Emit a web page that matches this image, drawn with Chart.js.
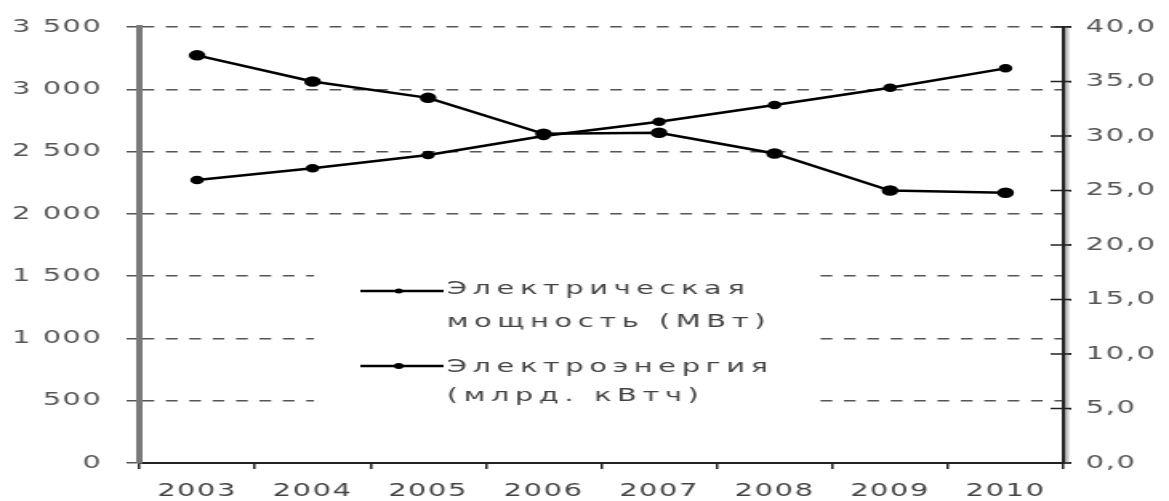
<!DOCTYPE html>
<html>
<head>
<meta charset="utf-8">
<script src="https://cdn.jsdelivr.net/npm/chart.js@4.4.1/dist/chart.umd.min.js"></script>
<style>
  html, body { margin: 0; padding: 0; background: #fff; overflow: hidden; }
  /* the source picture is stretched sideways, so the canvas is too */
  #wrap { width: 730px; height: 501px; transform: scaleX(1.6014); transform-origin: 0 0; }
</style>
</head>
<body>
<div id="wrap"><canvas id="chart"></canvas></div>
<script>
const years = ['2003', '2004', '2005', '2006', '2007', '2008', '2009', '2010'];
const powerMW = [2272, 2366, 2472, 2625, 2740, 2874, 3013, 3168];
const energyBnKWh = [37.4, 35.0, 33.5, 30.2, 30.3, 28.4, 25.0, 24.8];

const powerLabel = ['Электрическая', 'мощность (МВт)'];
const energyLabel = ['Электроэнергия', '(млрд. кВтч)'];

const leftTicks = ['0', '500', '1 000', '1 500', '2 000', '2 500', '3 000', '3 500'];
const rightTicks = ['0,0', '5,0', '10,0', '15,0', '20,0', '25,0', '30,0', '35,0', '40,0'];

const tickFont = { family: 'DejaVu Sans', size: 18 };

// letter spacing gets reset whenever the canvas is resized
const spacing = {
  id: 'spacing',
  beforeUpdate(chart) { chart.ctx.letterSpacing = '1px'; },
  beforeDraw(chart) { chart.ctx.letterSpacing = '1px'; }
};

// short inner ticks on the right axis, the line crosses them
const innerTicks = {
  id: 'innerTicks',
  afterDraw(chart) {
    const s = chart.scales.y1;
    const ctx = chart.ctx;
    ctx.save();
    // pale shadow next to the right axis line
    ctx.strokeStyle = '#c8c8c8';
    ctx.lineWidth = 2;
    ctx.beginPath();
    ctx.moveTo(s.left + 2.5, s.top);
    ctx.lineTo(s.left + 2.5, s.bottom);
    ctx.stroke();
    ctx.strokeStyle = '#222';
    ctx.lineWidth = 1.5;
    s.ticks.forEach(t => {
      const y = s.getPixelForValue(t.value);
      ctx.beginPath();
      ctx.moveTo(s.left - 8, y);
      ctx.lineTo(s.left + 5, y);
      ctx.stroke();
    });
    ctx.restore();
  }
};

// legend sits in the middle of the plot on a white box
const insideLegend = {
  id: 'insideLegend',
  afterDraw(chart) {
    const ctx = chart.ctx;
    const items = [
      { lines: powerLabel, y: 291, text: [289, 322], r: 2.5 },
      { lines: energyLabel, y: 366, text: [367, 396], r: 3 }
    ];
    ctx.save();
    ctx.fillStyle = '#fff';
    ctx.fillRect(196, 240, 312, 190);
    items.forEach(it => {
      ctx.strokeStyle = '#000';
      ctx.lineWidth = 2.5;
      ctx.beginPath();
      ctx.moveTo(225, it.y);
      ctx.lineTo(277, it.y);
      ctx.stroke();
      ctx.fillStyle = '#000';
      ctx.beginPath();
      ctx.arc(249, it.y, it.r, 0, Math.PI * 2);
      ctx.fill();
      ctx.fillStyle = '#444';
      ctx.font = '18px "DejaVu Sans"';
      ctx.letterSpacing = '3.5px';
      ctx.textBaseline = 'middle';
      ctx.textAlign = 'left';
      it.lines.forEach((line, i) => ctx.fillText(line, 279, it.text[i]));
    });
    ctx.restore();
  }
};

new Chart(document.getElementById('chart'), {
  type: 'line',
  data: {
    labels: years,
    datasets: [{
      label: powerLabel.join(' '),
      data: powerMW,
      yAxisID: 'y',
      borderColor: '#000',
      backgroundColor: '#000',
      borderWidth: 2.5,
      pointRadius: 3,
      pointHoverRadius: 3
    }, {
      label: energyLabel.join(' '),
      data: energyBnKWh,
      yAxisID: 'y1',
      borderColor: '#000',
      backgroundColor: '#000',
      borderWidth: 2.5,
      pointRadius: 4,
      pointHoverRadius: 4
    }]
  },
  options: {
    responsive: true,
    maintainAspectRatio: false,
    animation: false,
    layout: { padding: { top: 27, left: 0, right: 0, bottom: 0 } },
    plugins: {
      legend: { display: false },
      tooltip: { enabled: false }
    },
    scales: {
      x: {
        offset: true,
        grid: { offset: true, drawOnChartArea: false, tickLength: 6, color: '#222', lineWidth: 1.5 },
        border: { color: '#222', width: 2 },
        ticks: { padding: 12, color: '#444', font: tickFont, maxRotation: 0 },
        afterFit: s => { s.height = 38; }
      },
      y: {
        position: 'left',
        min: 0,
        max: 3500,
        grid: {
          color: c => (c.tick && c.tick.value === 0) ? 'rgba(0,0,0,0)' : '#555',
          tickColor: '#555',
          lineWidth: 1.5,
          tickLength: 8,
          tickBorderDash: []
        },
        border: { color: '#7a7a7a', width: 4, dash: [7.3, 7.3] },
        ticks: {
          stepSize: 500,
          padding: 15,
          color: '#555',
          font: tickFont,
          callback: (v, i) => leftTicks[i]
        },
        afterFit: s => { s.width = 87; }
      },
      y1: {
        position: 'right',
        min: 0,
        max: 40,
        grid: { drawOnChartArea: false, tickLength: 5, color: '#222', lineWidth: 1.5 },
        border: { color: '#222', width: 2.5 },
        ticks: {
          stepSize: 5,
          padding: 9,
          color: '#555',
          font: tickFont,
          callback: (v, i) => rightTicks[i]
        },
        afterFit: s => { s.width = 66; }
      }
    }
  },
  plugins: [spacing, innerTicks, insideLegend]
});
</script>
</body>
</html>
